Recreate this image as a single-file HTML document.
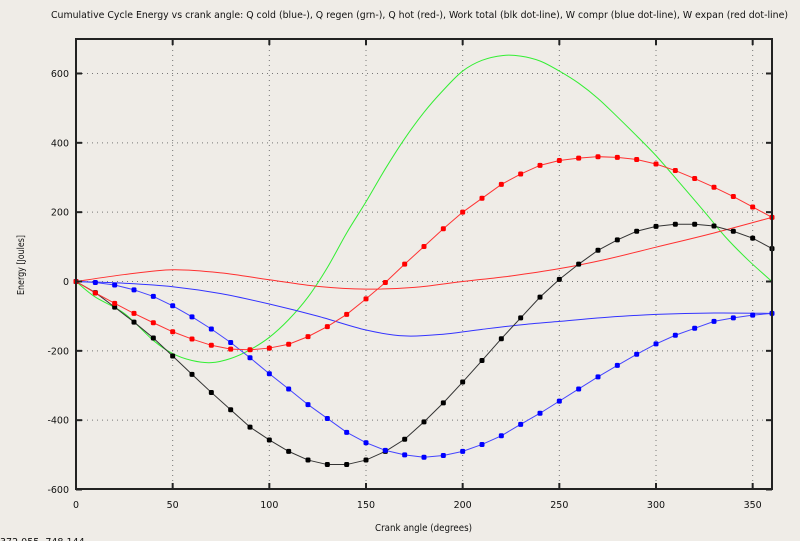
<!DOCTYPE html>
<html><head><meta charset="utf-8"><style>
html,body{margin:0;padding:0;background:#efece7;}
svg{display:block;}
text{font-family:"DejaVu Sans","Liberation Sans",sans-serif;font-size:9.5px;fill:#111;}
</style></head><body>
<svg id="s" width="800" height="541" xmlns="http://www.w3.org/2000/svg">
<rect width="800" height="541" fill="#efece7"/>
<g id="grid" stroke="#777" stroke-width="1" stroke-dasharray="1,4"></g>
<g id="curves" fill="none" stroke-width="1"></g>
<g id="dots"></g>
<g id="axes"></g>
<text x="51" y="18" textLength="737" lengthAdjust="spacingAndGlyphs">Cumulative Cycle Energy vs crank angle: Q cold (blue-), Q regen (grn-), Q hot (red-), Work total (blk dot-line), W compr (blue dot-line), W expan (red dot-line)</text>
<text x="375" y="531" textLength="97" lengthAdjust="spacingAndGlyphs">Crank angle (degrees)</text>
<text transform="translate(24,265) rotate(-90)" text-anchor="middle" textLength="60" lengthAdjust="spacingAndGlyphs">Energy [Joules]</text>
<text x="0" y="545">372.055,  748.144</text>
</svg>
<script>
var NS="http://www.w3.org/2000/svg";
function X(d){return 76+d*696/360;}
function Y(v){return 281.5-v*0.3467;}
function el(t,a,p){var e=document.createElementNS(NS,t);for(var k in a)e.setAttribute(k,a[k]);document.getElementById(p).appendChild(e);return e;}
// grid
[50,100,150,200,250,300,350].forEach(function(d){el('line',{x1:X(d),y1:40,x2:X(d),y2:488},'grid');});
[600,400,200,0,-200,-400].forEach(function(v){el('line',{x1:77,y1:Y(v),x2:771,y2:Y(v)},'grid');});
// axes
el('rect',{x:76,y:39,width:696,height:450,fill:'none',stroke:'#222','stroke-width':2},'axes');
[0,50,100,150,200,250,300,350].forEach(function(d){
 el('line',{x1:X(d),y1:489,x2:X(d),y2:483,stroke:'#222','stroke-width':2},'axes');
 el('line',{x1:X(d),y1:39,x2:X(d),y2:45,stroke:'#222','stroke-width':2},'axes');
 var t=el('text',{x:X(d),y:508,'text-anchor':'middle'},'axes');t.textContent=d;});
[600,400,200,0,-200,-400,-600].forEach(function(v){
 el('line',{x1:76,y1:Y(v),x2:82,y2:Y(v),stroke:'#222','stroke-width':2},'axes');
 el('line',{x1:772,y1:Y(v),x2:766,y2:Y(v),stroke:'#222','stroke-width':2},'axes');
 var t=el('text',{x:69,y:Y(v)+3.5,'text-anchor':'end'},'axes');t.textContent=v;});
function smooth(pts){ // catmull-rom
 var d='M'+X(pts[0][0])+','+Y(pts[0][1]);
 for(var i=0;i<pts.length-1;i++){
  var p0=pts[Math.max(0,i-1)],p1=pts[i],p2=pts[i+1],p3=pts[Math.min(pts.length-1,i+2)];
  var P=function(p){return [X(p[0]),Y(p[1])];};
  var a=P(p0),b=P(p1),c=P(p2),e=P(p3);
  var c1=[b[0]+(c[0]-a[0])/6,b[1]+(c[1]-a[1])/6],c2=[c[0]-(e[0]-b[0])/6,c[1]-(e[1]-b[1])/6];
  d+=' C'+c1+' '+c2+' '+c;}
 return d;}
function poly(vals){return vals.map(function(v,i){return X(i*10)+','+Y(v);}).join(' ');}
var green=[[0,0],[10,-45],[25,-92],[40,-170],[50,-208],[60,-228],[70,-234],[80,-222],[90,-197],[100,-161],[110,-110],[120,-45],[130,40],[140,140],[150,230],[160,325],[170,412],[180,488],[190,552],[200,607],[210,638],[221,652],[230,650],[240,636],[250,607],[260,572],[270,528],[280,475],[290,420],[300,363],[312,286],[326,195],[336,128],[348,60],[360,0]];
var qhot=[[0,0],[25,20],[50,34],[75,25],[100,5],[125,-14],[150,-22],[175,-17],[200,0],[225,16],[250,37],[275,65],[300,99],[330,140],[360,185]];
var qcold=[[0,0],[25,-5],[50,-15],[75,-35],[100,-65],[125,-100],[150,-140],[170,-157],[190,-152],[210,-138],[230,-125],[250,-115],[275,-103],[300,-95],[330,-91],[360,-92]];
el('path',{d:smooth(green),stroke:'#33ee33'},'curves');
el('path',{d:smooth(qhot),stroke:'#ff3030'},'curves');
el('path',{d:smooth(qcold),stroke:'#3333ff'},'curves');
var blk=[0,-32,-74,-117,-163,-215,-268,-320,-370,-420,-457,-490,-515,-528,-528,-515,-490,-455,-405,-350,-290,-228,-165,-105,-45,6,50,90,120,145,159,165,165,160,145,125,95];
var blu=[0,-3,-10,-24,-43,-70,-102,-137,-176,-220,-266,-310,-355,-395,-435,-465,-487,-500,-507,-502,-490,-470,-445,-412,-380,-345,-310,-275,-242,-210,-180,-155,-135,-115,-105,-97,-92];
var red=[0,-33,-63,-92,-119,-145,-166,-184,-195,-197,-192,-181,-159,-130,-95,-50,-3,50,101,152,200,240,280,310,335,349,356,360,358,352,339,320,297,272,245,215,185];
[[blk,'#333','#000'],[blu,'#4444ff','#0000ff'],[red,'#ff3333','#ff0000']].forEach(function(s){
 el('polyline',{points:poly(s[0]),stroke:s[1]},'curves');
 s[0].forEach(function(v,i){el('rect',{x:X(i*10)-2.5,y:Y(v)-2.5,width:5,height:5,rx:1.5,fill:s[2]},'dots');});
});
</script>
</body></html>
